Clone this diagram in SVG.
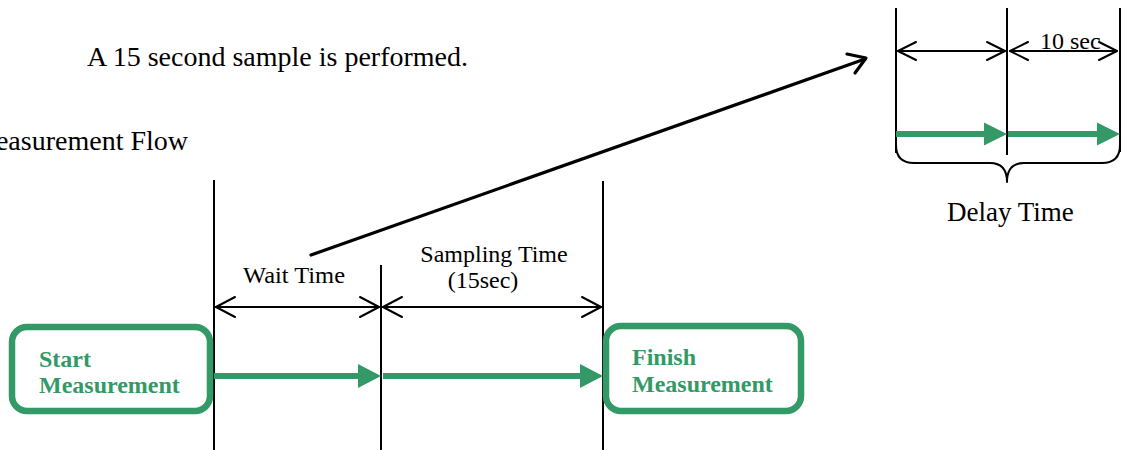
<svg xmlns="http://www.w3.org/2000/svg" width="1123" height="450" viewBox="0 0 1123 450">
<style>
.t{font-family:"Liberation Serif","Times New Roman",serif;fill:#000}
.b{font-family:"Liberation Serif","Times New Roman",serif;font-weight:bold;font-size:24px;fill:#339966}
.box{fill:#fff;stroke:#339966;stroke-width:6.5}
.vl{stroke:#000;stroke-width:2;fill:none}
.dim{stroke:#000;stroke-width:2;fill:none;stroke-linecap:round;stroke-linejoin:round}
.gl{stroke:#339966;stroke-width:6;fill:none}
.gh{fill:#339966}
.big{stroke:#000;stroke-width:3.2;fill:none;stroke-linecap:round;stroke-linejoin:round}
</style>
<rect width="1123" height="450" fill="#fff"/>
<text class="t" x="87" y="66" font-size="28">A 15 second sample is performed.</text>
<text class="t" x="188" y="150" font-size="28" text-anchor="end">Measurement Flow</text>
<g id="guides">
<line class="vl" x1="214" y1="180" x2="214" y2="450"/>
<line class="vl" x1="381" y1="265" x2="381" y2="450"/>
<line class="vl" x1="603" y1="181" x2="603" y2="450"/>
<line class="vl" x1="896" y1="8" x2="896" y2="153"/>
<line class="vl" x1="1007" y1="8" x2="1007" y2="155"/>
<line class="vl" x1="1120" y1="8" x2="1120" y2="152"/>
</g>
<g id="start">
<rect class="box" x="12" y="327" width="198" height="84" rx="15"/>
<text class="b" x="39" y="367">Start</text>
<text class="b" x="39" y="393">Measurement</text>
</g>
<g id="finish">
<rect class="box" x="606" y="326" width="195" height="85" rx="15"/>
<text class="b" x="632" y="365">Finish</text>
<text class="b" x="632" y="392">Measurement</text>
</g>
<g id="connectors">
<line class="gl" x1="214" y1="376" x2="362" y2="376"/>
<polygon class="gh" points="358,364 381,376 358,388"/>
<line class="gl" x1="383" y1="376" x2="584" y2="376"/>
<polygon class="gh" points="580,364 603,376 580,388"/>
<line class="dim" x1="216" y1="307" x2="379" y2="307"/>
<polyline class="dim" points="235,297 216,307 235,317"/>
<polyline class="dim" points="360,297 379,307 360,317"/>
<line class="dim" x1="383" y1="307" x2="601" y2="307"/>
<polyline class="dim" points="402,297 383,307 402,317"/>
<polyline class="dim" points="582,297 601,307 582,317"/>
<line class="big" x1="311" y1="255" x2="865" y2="59"/>
<polyline class="big" points="847,54 866,58 855,73"/>
<line class="dim" x1="898" y1="51" x2="1005" y2="51"/>
<polyline class="dim" points="916,42 898,51 916,60"/>
<polyline class="dim" points="987,42 1005,51 987,60"/>
<line class="dim" x1="1010" y1="51" x2="1117" y2="51"/>
<polyline class="dim" points="1028,42 1010,51 1028,60"/>
<polyline class="dim" points="1099,42 1117,51 1099,60"/>
<line class="gl" x1="896" y1="134" x2="988" y2="134"/>
<polygon class="gh" points="984,122.5 1007,134 984,145.5"/>
<line class="gl" x1="1008" y1="134" x2="1100" y2="134"/>
<polygon class="gh" points="1097,122.5 1120,134 1097,145.5"/>
<path class="dim" stroke-width="3" d="M896,145 Q896,163 914,163 L990,163 Q1007,163 1007,182 Q1007,163 1024,163 L1102,163 Q1120,163 1120,145"/>
</g>
<text class="t" x="243" y="283" font-size="24" textLength="102" lengthAdjust="spacingAndGlyphs">Wait Time</text>
<text class="t" x="494" y="262" font-size="24" text-anchor="middle">Sampling Time</text>
<text class="t" x="483" y="288" font-size="24" text-anchor="middle">(15sec)</text>
<text class="t" x="1040" y="49" font-size="24">10 sec</text>
<text class="t" x="947" y="221" font-size="27">Delay Time</text>
</svg>
